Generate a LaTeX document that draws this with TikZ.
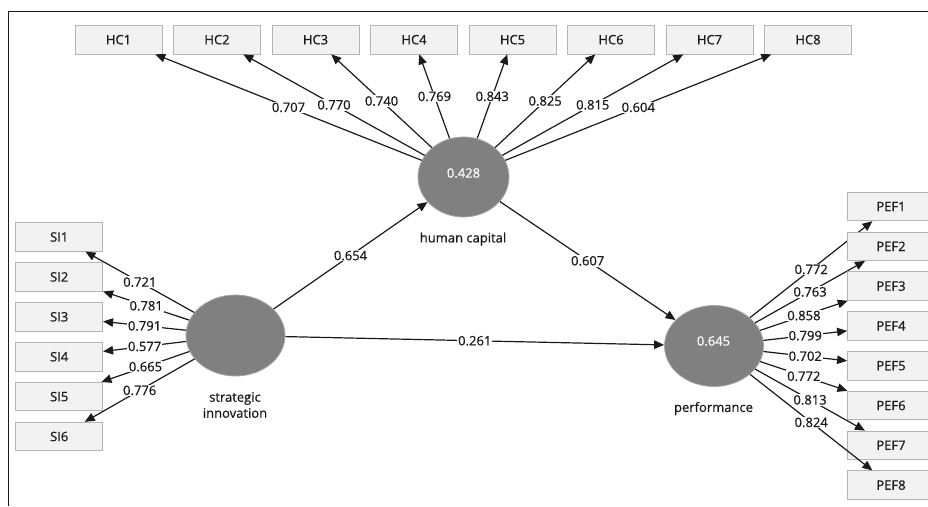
\documentclass[tikz,border=0pt]{standalone}
\usepackage{fontspec}
\newfontfamily\osans[FakeBold=0.7]{Open Sans}
\usetikzlibrary{shapes.geometric,arrows.meta}
\definecolor{boxfill}{HTML}{F2F2F2}
\definecolor{boxline}{HTML}{B4B4B4}
\definecolor{lvfill}{HTML}{808080}
\definecolor{lvline}{HTML}{A8A8A8}
\definecolor{ink}{HTML}{1A1A1A}
\begin{document}
\begin{tikzpicture}[x=1pt,y=-1pt,
  txt/.style={font=\osans\fontsize{13}{16}\selectfont, text=ink},
  ind/.style={txt, draw=boxline, fill=boxfill, line width=0.8pt, minimum width=87pt, minimum height=28.5pt, inner sep=0pt},
  lv/.style={ellipse, draw=lvline, fill=lvfill, line width=0.8pt, inner sep=0pt},
  ld/.style={draw=ink, line width=1.2pt, -{Triangle[length=10pt,width=8.5pt]}},
  val/.style={txt, fill=white, inner sep=1pt, midway},
  lvtext/.style={txt, align=center},
  lvval/.style={txt, text=white}
]
\useasboundingbox (0,0) rectangle (928,506);
\clip (0,0) rectangle (928,506);
% frame
\draw[ink, line width=1pt] (8,506) -- (8,11) -- (928,11);
% latent variables
\node[lv, minimum width=91pt, minimum height=80pt] (hc) at (463.5,177) {};
\node[lv, minimum width=99pt, minimum height=81pt] (si) at (235.5,335.5) {};
\node[lv, minimum width=99pt, minimum height=81pt] (pf) at (714,346) {};
\node[lvval] (hcv) at (463.5,173) {0.428};
\node[lvval] (pfv) at (713.5,341) {0.645};
\node[lvtext] (hcl) at (463,239) {human capital};
\node[lvtext] (sil) at (235,405) {strategic\\innovation};
\node[lvtext] (pfl) at (713.5,408.5) {performance};
% HC indicators
\foreach \v [count=\i] in {0.707,0.770,0.740,0.769,0.843,0.825,0.815,0.604}{
  \node[ind] (hc\i) at ({118.5+98.5*(\i-1)},39.7) {HC\i};
  \draw[ld] (hc) -- node[val]{\v} (hc\i);
}
% SI indicators
\foreach \v [count=\i] in {0.721,0.781,0.791,0.577,0.665,0.776}{
  \node[ind] (si\i) at (59.2,{237+39.9*(\i-1)}) {SI\i};
  \draw[ld] (si) -- node[val]{\v} (si\i);
}
% PEF indicators
\foreach \v [count=\i] in {0.772,0.763,0.858,0.799,0.702,0.772,0.813,0.824}{
  \node[ind] (pef\i) at (891,{206.5+39.8*(\i-1)}) {PEF\i};
  \draw[ld] (pf) -- node[val]{\v} (pef\i);
}
% structural paths
\draw[ld] (si) -- node[val]{0.654} (hc);
\draw[ld] (hc) -- node[val]{0.607} (pf);
\draw[ld] (si) -- node[val]{0.261} (pf);
\end{tikzpicture}
\end{document}
